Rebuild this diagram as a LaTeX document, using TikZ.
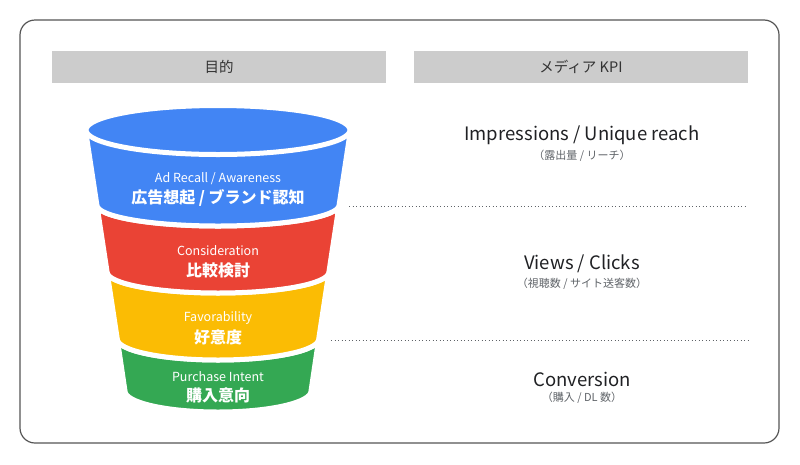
\documentclass[tikz,border=0pt]{standalone}
\usepackage{fontspec}
\setmainfont{Noto Sans CJK JP}
\usepackage{xcolor}
\definecolor{gblue}{HTML}{4285F4}
\definecolor{gred}{HTML}{EA4335}
\definecolor{gyellow}{HTML}{FBBC04}
\definecolor{ggreen}{HTML}{34A853}
\definecolor{headgray}{HTML}{CCCCCC}
\definecolor{headtext}{HTML}{333333}
\definecolor{kpitext}{HTML}{202124}
\definecolor{subgray}{HTML}{5F6368}
\definecolor{framegray}{HTML}{555555}

% one slice of the funnel: colour, side y top, side y bottom, half width top, half width bottom
\newcommand{\funnelband}[5]{%
  \path[fill=#1,band] ({218-#4},#2) -- ({218-#5},#3)
    arc[start angle=180,end angle=0,x radius=#5,y radius=21]
    -- ({218+#4},#2)
    arc[start angle=0,end angle=180,x radius=#4,y radius=21] -- cycle;}

\begin{document}
\begin{tikzpicture}[x=1pt,y=-1pt,
  head box/.style={fill=headgray,minimum width=334pt,minimum height=32pt,inner sep=0pt,text=headtext,font=\fontsize{14.5}{16}\selectfont},
  band/.style={draw=white,line width=5pt,line join=round},
  en label/.style={text=white,inner sep=0pt,font=\fontsize{12.5}{14}\selectfont},
  jp label/.style={text=white,inner sep=0pt,font=\fontsize{16}{18}\selectfont\bfseries},
  kpi/.style={text=kpitext,inner sep=0pt,font=\fontsize{18.5}{20}\selectfont},
  kpi sub/.style={text=subgray,inner sep=0pt,font=\fontsize{11}{12}\selectfont},
  sep line/.style={subgray,line width=1pt,dash pattern=on 1pt off 2.5pt}]
  \useasboundingbox (0,0) rectangle (800,464);

  % frame
  \draw[framegray,line width=1.2pt,rounded corners=15pt] (20,20) rectangle (779,443);

  % headers
  \node[head box] (goal head) at (219,66.5) {目的};
  \node[head box] (kpi head) at (581,66.5) {メディア KPI};

  % funnel, bottom slice first
  \funnelband{ggreen}{339}{391}{100.7}{93}
  \funnelband{gyellow}{272}{339}{110.9}{100.7}
  \funnelband{gred}{205}{272}{121.1}{110.9}
  \funnelband{gblue}{130}{205}{132.5}{121.1}
  \path[fill=gblue,band] (218,130) ellipse[x radius=132,y radius=24.5];

  \node[en label] (recall en) at (218,179) {Ad Recall / Awareness};
  \node[jp label] (recall jp) at (218,198) {広告想起 / ブランド認知};
  \node[en label] (consider en) at (218,251) {Consideration};
  \node[jp label] (consider jp) at (218,270) {比較検討};
  \node[en label] (favor en) at (218,318) {Favorability};
  \node[jp label] (favor jp) at (218,337) {好意度};
  \node[en label] (intent en) at (218,377) {Purchase Intent};
  \node[jp label] (intent jp) at (218,395) {購入意向};

  % media KPI
  \node[kpi] (imp) at (582,135) {Impressions / Unique reach};
  \node[kpi sub] (imp sub) at (582,156) {（露出量 / リーチ）};
  \node[kpi] (views) at (582,264) {Views / Clicks};
  \node[kpi sub] (views sub) at (582,284) {（視聴数 / サイト送客数）};
  \node[kpi] (conv) at (582,379) {Conversion};
  \node[kpi sub] (conv sub) at (582,398) {（購入 / DL 数）};

  % separators
  \coordinate (sep1 a) at (349,206);
  \coordinate (sep1 b) at (748,206);
  \coordinate (sep2 a) at (331,340);
  \coordinate (sep2 b) at (748,340);
  \draw[sep line] (sep1 a) -- (sep1 b);
  \draw[sep line] (sep2 a) -- (sep2 b);
\end{tikzpicture}
\end{document}
